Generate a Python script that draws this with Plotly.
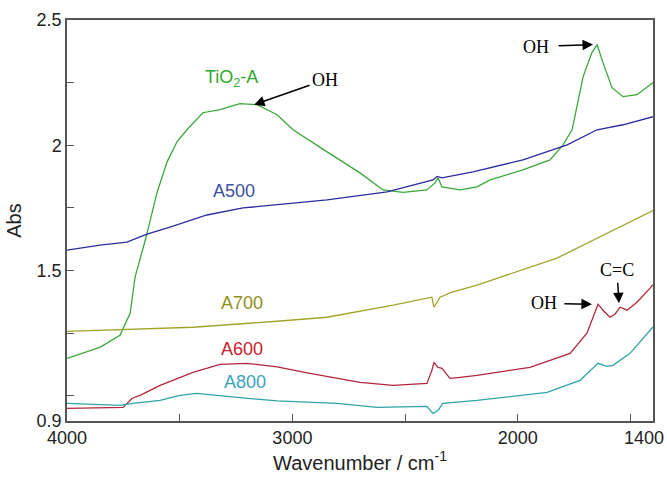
import plotly.graph_objects as go

# FTIR absorbance spectra (wavenumber in cm-1, absorbance)
tio2_wn = [4000, 3854, 3765, 3720, 3698, 3689, 3649, 3601, 3556, 3512, 3468, 3397, 3321,
           3233, 3157, 3068, 2997, 2846, 2700, 2598, 2509, 2403, 2367, 2354, 2336, 2256,
           2181, 2123, 1977, 1857, 1799, 1759, 1737, 1710, 1671, 1648, 1622, 1582, 1533,
           1471, 1413, 1400]
tio2_abs = [1.150, 1.194, 1.242, 1.330, 1.474, 1.502, 1.634, 1.810, 1.934, 2.014, 2.062,
            2.130, 2.142, 2.166, 2.162, 2.122, 2.062, 1.974, 1.890, 1.822, 1.812, 1.822,
            1.850, 1.870, 1.834, 1.822, 1.834, 1.862, 1.902, 1.942, 2.002, 2.062, 2.154,
            2.274, 2.370, 2.402, 2.330, 2.230, 2.194, 2.202, 2.242, 2.250]

a500_wn = [4000, 3854, 3734, 3645, 3543, 3379, 3219, 3068, 2846, 2580, 2376, 2358, 2336,
           2199, 1977, 1781, 1648, 1533, 1413, 1400]
a500_abs = [1.582, 1.602, 1.614, 1.646, 1.674, 1.722, 1.750, 1.762, 1.782, 1.814, 1.862,
            1.876, 1.870, 1.894, 1.942, 2.002, 2.062, 2.082, 2.110, 2.114]

a700_wn = [4000, 3441, 3068, 2846, 2553, 2403, 2381, 2372, 2358, 2345, 2292, 2181, 1826,
           1604, 1413, 1400]
a700_abs = [1.258, 1.274, 1.298, 1.314, 1.362, 1.390, 1.394, 1.354, 1.374, 1.394, 1.414,
            1.442, 1.550, 1.650, 1.734, 1.740]

a600_wn = [4000, 3751, 3712, 3676, 3587, 3441, 3321, 3201, 3068, 2922, 2700, 2553, 2403,
           2381, 2372, 2354, 2336, 2301, 2256, 2181, 1946, 1768, 1693, 1657, 1644, 1622,
           1591, 1569, 1546, 1515, 1471, 1413, 1400]
a600_abs = [0.950, 0.954, 0.990, 1.002, 1.042, 1.094, 1.126, 1.130, 1.116, 1.090, 1.054,
            1.042, 1.050, 1.102, 1.134, 1.114, 1.110, 1.070, 1.074, 1.082, 1.114, 1.170,
            1.250, 1.330, 1.366, 1.342, 1.314, 1.326, 1.354, 1.342, 1.374, 1.430, 1.444]

a800_wn = [4000, 3765, 3707, 3587, 3499, 3423, 3290, 3068, 2802, 2624, 2403, 2376, 2354,
           2332, 2181, 1870, 1724, 1644, 1604, 1578, 1502, 1413, 1400]
a800_abs = [0.970, 0.962, 0.970, 0.982, 1.002, 1.010, 0.998, 0.980, 0.970, 0.954, 0.958,
            0.930, 0.942, 0.970, 0.982, 1.014, 1.062, 1.130, 1.118, 1.122, 1.170, 1.262,
            1.275]

x_ticks = [4000, 3000, 2000]
x_minor = [3500, 2500, 1500]
x_end_label = "1400"
y_ticks = [0.9, 1.5, 2, 2.5]
y_ticklabels = ["0.9", "1.5", "2", "2.5"]
y_minor = [1.0, 1.25, 1.75, 2.25]

series = [
    ("TiO2-A", tio2_wn, tio2_abs, "#3aa83a"),
    ("A500", a500_wn, a500_abs, "#2b2ba3"),
    ("A700", a700_wn, a700_abs, "#a3a32a"),
    ("A600", a600_wn, a600_abs, "#b3263a"),
    ("A800", a800_wn, a800_abs, "#2fa3a8"),
]

fig = go.Figure()
for name, wn, ab, col in series:
    fig.add_trace(go.Scatter(x=wn, y=ab, mode="lines", name=name,
                             line=dict(color=col, width=1.3), showlegend=False))

label_font = "Arial, Liberation Sans, sans-serif"
serif_font = "Liberation Serif, Times New Roman, serif"

# Curve labels
curve_labels = [
    ("TiO<sub>2</sub>-A", 3268, 2.266, "#2ea82e"),
    ("A500", 3259, 1.818, "#3a4f9e"),
    ("A700", 3224, 1.370, "#8f8f18"),
    ("A600", 3224, 1.186, "#c8202c"),
    ("A800", 3210, 1.054, "#3aa3bb"),
]
for txt, x, y, col in curve_labels:
    fig.add_annotation(x=x, y=y, text=txt, showarrow=False,
                       font=dict(family=label_font, size=18, color=col))

# Band assignments: label text at the arrow tail, arrow tip on the band
bands = [
    # text, tip x, tip y, text offset px (ax, ay), padding
    ("OH", 3170, 2.162, 71, -25, 2),
    ("OH", 1666, 2.402, -57, 2, 9),
    ("OH", 1671, 1.366, -48, -1, 7),
    ("C=C", 1551, 1.370, -2, -33, 2),
]
for txt, x, y, ax, ay, pad in bands:
    fig.add_annotation(x=x, y=y, ax=ax, ay=ay, text=txt, showarrow=True,
                       font=dict(family=serif_font, size=18, color="black"),
                       borderpad=pad, arrowhead=2, arrowsize=1.4, arrowwidth=1.5,
                       arrowcolor="black", standoff=0)

# Label for the right end of the wavenumber axis, kept inside the page
fig.add_annotation(xref="paper", yref="paper", x=1.022, y=-0.043,
                   xanchor="right", yanchor="middle", text=x_end_label,
                   showarrow=False, font=dict(family=label_font, size=18, color="#222222"))

axis_col = "#555555"
fig.update_layout(
    width=667, height=479,
    margin=dict(l=67, r=14, t=20, b=58, autoexpand=False),
    paper_bgcolor="white", plot_bgcolor="white",
    font=dict(family=label_font, size=18, color="#222222"),
    xaxis=dict(
        range=[4000, 1400], autorange=False, automargin=False,
        tickmode="array", tickvals=x_ticks, ticktext=[str(v) for v in x_ticks],
        ticks="inside", ticklen=7, tickwidth=1.2, tickcolor=axis_col,
        minor=dict(tickmode="array", tickvals=x_minor, ticks="inside", ticklen=7,
                   tickwidth=1.2, tickcolor=axis_col, showgrid=False),
        showline=True, linecolor=axis_col, linewidth=1.5, mirror=True,
        showgrid=False, zeroline=False,
        title=dict(text="Wavenumber / cm<sup>-1</sup>", font=dict(size=20), standoff=8),
    ),
    yaxis=dict(
        range=[0.9, 2.5], autorange=False, automargin=False,
        tickmode="array", tickvals=y_ticks, ticktext=y_ticklabels,
        ticks="inside", ticklen=7, tickwidth=1.2, tickcolor=axis_col,
        minor=dict(tickmode="array", tickvals=y_minor, ticks="inside", ticklen=7,
                   tickwidth=1.2, tickcolor=axis_col, showgrid=False),
        showline=True, linecolor=axis_col, linewidth=1.5, mirror=True,
        showgrid=False, zeroline=False,
        title=dict(text="Abs", font=dict(size=20), standoff=10),
    ),
)

fig.write_html("out.html")
